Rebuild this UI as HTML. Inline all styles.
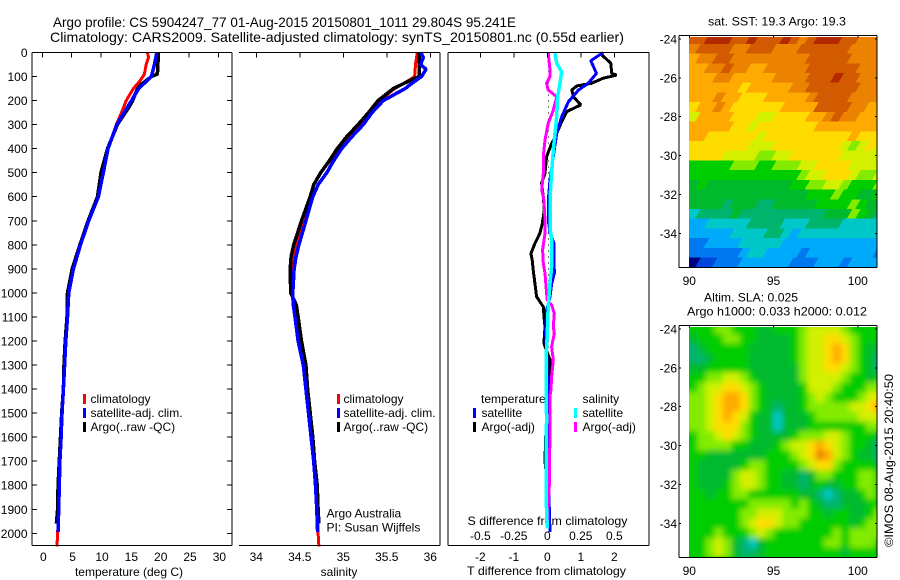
<!DOCTYPE html>
<html lang="en">
<head>
<meta charset="utf-8">
<title>Argo profile chart</title>
<style>
html,body{margin:0;padding:0;background:#fff;}
svg{display:block;}
text{font-family:"Liberation Sans",sans-serif;font-size:12px;fill:#000;}
.ttl{font-size:14px;}
</style>
</head>
<body>
<svg id="chart" xmlns="http://www.w3.org/2000/svg" width="900" height="580" viewBox="0 0 900 580">
<defs>
<clipPath id="clip-sst"><rect x="689" y="37" width="188" height="230"/></clipPath>
<clipPath id="clip-sla"><rect x="689" y="327" width="188" height="230"/></clipPath>
<filter id="soft" x="-5%" y="-5%" width="110%" height="110%"><feGaussianBlur stdDeviation="3"/></filter>
</defs>
<rect x="0" y="0" width="900" height="580" fill="#fff"/>
<text class="ttl" x="53" y="27" textLength="463" lengthAdjust="spacingAndGlyphs">Argo profile: CS 5904247_77 01-Aug-2015 20150801_1011 29.804S 95.241E</text>
<text class="ttl" x="50" y="42" textLength="574" lengthAdjust="spacingAndGlyphs">Climatology: CARS2009. Satellite-adjusted climatology: synTS_20150801.nc (0.55d earlier)</text>

<text x="129" y="576" text-anchor="middle">temperature (deg C)</text>
<text x="339" y="576" text-anchor="middle">salinity</text>
<text x="467" y="575" textLength="159" lengthAdjust="spacingAndGlyphs">T difference from climatology</text>
<text x="467.5" y="525" textLength="160" lengthAdjust="spacingAndGlyphs">S difference from climatology</text>

<g>
<rect x="83" y="394" width="3" height="10" fill="#ff0000"/>
<text x="90.5" y="403">climatology</text>
<rect x="83" y="408" width="3" height="10" fill="#0000ff"/>
<text x="90.5" y="417">satellite-adj. clim.</text>
<rect x="83" y="422" width="3" height="10" fill="#000"/>
<text x="90.5" y="431">Argo(..raw -QC)</text>
</g>
<g>
<rect x="337" y="394" width="3" height="10" fill="#ff0000"/>
<text x="343.5" y="403">climatology</text>
<rect x="337" y="408" width="3" height="10" fill="#0000ff"/>
<text x="343.5" y="417">satellite-adj. clim.</text>
<rect x="337" y="422" width="3" height="10" fill="#000"/>
<text x="343.5" y="431">Argo(..raw -QC)</text>
</g>
<text x="326.5" y="517.5">Argo Australia</text>
<text x="326.5" y="531.5">PI: Susan Wijffels</text>

<g>
<text x="481" y="403">temperature</text>
<rect x="473" y="408" width="3" height="10" fill="#0000ff"/>
<text x="481.5" y="417">satellite</text>
<rect x="473" y="422" width="3" height="10" fill="#000"/>
<text x="481.5" y="431">Argo(-adj)</text>
<text x="582.5" y="403">salinity</text>
<rect x="574" y="408" width="3" height="10" fill="#00ffff"/>
<text x="582.5" y="417">satellite</text>
<rect x="574" y="422" width="3" height="10" fill="#ff00ff"/>
<text x="582.5" y="431">Argo(-adj)</text>
</g>

<text x="708" y="25.5" textLength="138" lengthAdjust="spacingAndGlyphs">sat. SST: 19.3 Argo: 19.3</text>
<text x="704" y="301.5" textLength="94" lengthAdjust="spacingAndGlyphs">Altim. SLA: 0.025</text>
<text x="687" y="315.5" textLength="180" lengthAdjust="spacingAndGlyphs">Argo h1000: 0.033 h2000: 0.012</text>
<text transform="translate(893,547) rotate(-90)" textLength="173" lengthAdjust="spacingAndGlyphs">©IMOS 08-Aug-2015 20:40:50</text>

<g id="labels"></g>
<g id="maps"></g>
<g id="marks"></g>
<g id="axes"></g>
</svg>
<script>
// ---------- axis tick values ----------
const depthTicks = [0,100,200,300,400,500,600,700,800,900,1000,1100,1200,1300,1400,1500,1600,1700,1800,1900,2000];
const temperatureTicks = [0,5,10,15,20,25,30];
const salinityTicks = [34,34.5,35,35.5,36];
const tDiffTicks = [-2,-1,0,1,2];
const sDiffTicks = [-0.5,-0.25,0,0.25,0.5];
const sDiffLabels = ['-0.5','-0.25','0','0.25','0.5'];
const lonTicks = [90,95,100];
const latTicks = [-24,-26,-28,-30,-32,-34];

// ---------- temperature profiles ----------
const climTDepth = [0,20,50,90,120,150,200,250,300,400,500,600,700,800,900,1000,1100,1200,1300,1400,1500,1600,1700,1800,1900,2000,2055];
const climT = [17.9,18.1,17.7,17.4,16.6,15.5,14.3,13.5,12.6,11.2,10.4,9.6,7.9,6.5,5.3,4.5,4.3,4.0,3.8,3.6,3.4,3.2,3.0,2.9,2.8,2.6,2.5];
const satTDepth = [0,50,100,150,200,300,400,500,600,700,800,900,1000,1100,1200,1300,1400,1500,1600,1700,1800,1900,1995];
const satT = [19.5,19.1,18.6,16.4,15.2,12.7,11.2,10.4,9.55,7.9,6.5,5.3,4.5,4.3,4.0,3.8,3.6,3.35,3.2,3.0,2.9,2.8,2.67];
const argoTDepth = [0,90,100,130,150,200,230,300,400,500,600,700,800,900,1000,1100,1200,1300,1400,1500,1600,1700,1800,1900,1960];
const argoT = [19.8,19.6,18.6,17.0,16.2,15.4,14.7,12.8,11.1,10.0,9.4,7.8,6.4,5.1,4.3,4.2,3.9,3.7,3.6,3.3,3.1,2.9,2.7,2.6,2.4];

// ---------- salinity profiles ----------
const climSDepth = [0,50,100,110,150,200,250,300,350,400,450,500,550,600,700,800,900,1000,1050,1100,1200,1300,1400,1500,1600,1700,1800,1900,2000,2055];
const climS = [35.85,35.83,35.82,35.78,35.59,35.42,35.31,35.2,35.06,34.94,34.88,34.81,34.71,34.65,34.56,34.46,34.41,34.41,34.425,34.45,34.49,34.55,34.58,34.61,34.64,34.67,34.69,34.7,34.71,34.72];
const satSDepth = [0,20,50,70,100,120,150,200,250,300,350,400,450,500,550,600,700,800,850,900,1000,1050,1100,1200,1300,1400,1500,1600,1700,1800,1900,1995];
const satS = [35.89,35.92,35.89,35.95,35.90,35.82,35.71,35.46,35.33,35.23,35.10,34.98,34.89,34.81,34.71,34.65,34.57,34.49,34.456,34.435,34.42,34.425,34.445,34.48,34.54,34.57,34.6,34.63,34.66,34.68,34.695,34.705];
const argoSDepth = [0,100,110,150,200,250,300,350,400,450,500,550,600,700,800,850,900,1000,1050,1100,1200,1300,1400,1500,1600,1700,1800,1900,1960];
const argoS = [35.87,35.87,35.805,35.575,35.40,35.29,35.17,35.04,34.93,34.84,34.74,34.66,34.62,34.52,34.43,34.40,34.39,34.395,34.46,34.48,34.52,34.57,34.59,34.62,34.65,34.67,34.7,34.71,34.72];

// ---------- difference profiles ----------
const diffTArgoDepth = [3,45,87,94,107,128,139,156,184,218,246,288,336,385,433,503,544,600,655,711,752,794,836,863,905,960,1016,1058,1113,1141,1210,1279,1349,1404,1500,1600,1700,1800,1900,1960];
const diffTArgo = [1.57,1.9,1.92,2.07,1.67,1.32,0.88,0.73,0.78,1.0,0.58,0.43,0.28,0.11,-0.02,-0.07,-0.17,-0.12,-0.09,-0.15,-0.22,-0.37,-0.49,-0.45,-0.42,-0.37,-0.32,-0.12,-0.09,-0.07,-0.1,0.08,0.08,0.05,0.02,-0.05,-0.07,0,0.02,0.03];
const diffTSatDepth = [0,34,87,128,156,205,267,336,433,530,614,697,752,794,919,960,1016,1071,1169,1238,1404,1600,1730,1855,1994];
const diffTSat = [1.67,1.3,1.47,1.22,0.93,0.63,0.43,0.28,0.18,0.08,0.03,0.03,0.08,0.2,0.21,0.13,0.08,-0.02,-0.05,-0.02,0.01,0.02,0.05,0.05,0.08];
const diffSSatDepth = [3,45,80,128,184,267,406,545,614,725,780,891,960,1058,1169,1279,1404,1522,1660,1840,1980];
const diffSSat = [0.057,0.07,0.107,0.095,0.077,0.07,0.045,0.027,0.02,0.02,0.032,0.032,0.02,0.007,0,-0.01,-0.01,-0.005,-0.01,-0.01,0];
const diffSArgoDepth = [0,73,100,128,156,184,240,295,364,433,503,572,614,697,752,821,877,919,1002,1030,1050,1085,1141,1169,1224,1279,1349,1404,1425,1565,1800,1880,1950];
const diffSArgo = [0.007,0.02,0.02,-0.005,0.007,0.07,0.045,0.007,-0.017,-0.03,-0.03,-0.042,-0.025,-0.017,-0.017,-0.035,-0.03,-0.017,-0.005,0,0.032,0.052,0.045,0.052,0.032,0.045,0.032,0.027,0.02,0.02,0.015,0.007,0.007];

// ---------- SST map, colour-level per 0.5 degree cell (rows from 24S, columns from 90E) ----------
const sstLevels = [
[13,13,14,14,14,13,13,14,13,13,13,14,13,12,13,14,14,14,13,13,12,12,12],
[12,13,13,13,13,12,12,13,13,13,12,12,12,13,13,13,13,13,13,12,12,12,12],
[11,12,12,13,13,12,12,12,12,12,12,12,12,12,13,13,13,13,13,12,12,12,12],
[11,11,12,12,13,12,12,11,11,12,12,12,12,12,13,13,13,13,13,13,12,12,12],
[11,11,11,12,12,11,11,11,11,11,12,12,12,12,13,13,13,14,13,13,12,12,12],
[11,11,11,11,11,11,10,11,11,11,11,11,12,12,13,13,13,13,13,13,12,12,12],
[11,11,11,12,11,11,10,10,10,11,11,11,11,11,12,13,13,13,13,12,12,12,12],
[10,11,11,12,11,10,10,10,10,10,10,11,11,11,11,13,13,13,13,12,12,11,11],
[9,11,11,11,11,10,10,10,9,9,10,10,10,10,11,11,12,13,12,12,11,11,11],
[11,11,11,11,11,10,10,9,10,10,10,10,10,10,10,11,11,11,11,11,11,11,11],
[11,11,10,10,10,10,10,10,9,10,10,10,10,10,10,10,10,10,10,11,10,10,10],
[10,10,10,10,10,10,10,9,9,9,10,10,10,10,10,10,10,10,9,8,9,10,9],
[10,10,10,10,9,9,9,9,8,8,9,9,10,10,10,10,10,10,9,9,9,9,9],
[7,7,7,7,7,8,8,8,7,7,8,8,8,9,9,10,10,10,10,9,9,9,9],
[7,7,7,7,7,7,7,7,7,7,7,7,7,8,9,9,10,10,10,9,8,8,9],
[6,7,6,6,6,6,6,6,6,6,6,6,7,7,8,8,9,9,8,7,7,7,8],
[6,6,6,6,6,6,6,6,6,6,6,6,6,6,7,7,7,8,7,7,6,6,7],
[6,6,6,6,5,6,6,6,5,5,6,6,6,6,6,7,7,7,7,8,7,6,6],
[4,5,5,5,5,6,5,5,5,5,5,5,5,5,5,5,6,6,6,8,7,6,5],
[3,3,4,4,4,4,4,5,5,5,5,4,4,4,5,5,5,5,4,4,4,4,4],
[3,3,3,3,3,4,4,4,4,5,5,4,3,4,4,4,4,4,4,4,4,4,4],
[2,2,3,3,3,3,4,4,4,4,4,3,3,3,3,3,3,3,3,3,3,3,3],
[2,2,2,2,2,2,3,4,4,3,3,3,3,2,3,3,3,3,3,3,3,3,2],
[0,1,1,2,2,2,3,3,3,3,3,3,2,2,2,3,3,3,2,3,3,3,3]
];

// ---------- sea-level anomaly map, colour-level per 0.5 degree cell ----------
const slaLevels = [
[7,7,7,8,8,7,7,7,6,6,7,7,7,8,9,9,9,9,8,7,7,7,7],
[6,7,7,7,8,8,7,7,6,6,6,6,7,8,9,9,10,10,9,8,7,7,7],
[5,6,7,7,7,7,7,6,6,6,6,6,7,8,9,9,10,11,10,8,7,6,6],
[5,5,6,7,7,7,7,6,6,6,6,6,7,8,9,9,10,11,10,8,7,6,5],
[6,6,7,7,7,7,7,6,6,6,6,6,6,8,9,9,10,10,9,8,7,6,5],
[7,7,8,8,9,9,8,7,6,6,6,6,6,8,9,9,9,9,8,7,7,6,7],
[7,8,9,9,10,10,9,8,7,6,6,6,6,7,9,9,9,8,7,7,7,8,8],
[8,8,9,10,11,11,10,8,7,6,6,6,6,7,8,9,8,7,7,7,8,9,10],
[8,8,9,10,11,11,10,8,7,6,5,6,6,7,8,8,8,8,8,9,9,10,11],
[8,8,9,10,11,10,9,7,6,6,4,6,6,6,7,8,8,8,8,8,9,9,9],
[8,8,9,10,10,10,8,7,6,6,4,6,6,6,7,7,7,7,7,7,7,8,8],
[7,8,8,9,10,9,8,7,6,6,6,6,7,8,8,8,9,9,8,7,7,7,6],
[7,8,8,8,8,7,7,6,6,6,7,8,9,9,10,11,10,9,8,7,7,6,5],
[7,7,6,6,6,6,6,6,6,7,7,7,8,9,10,12,11,9,8,7,6,6,5],
[7,6,6,6,6,6,7,8,8,7,7,7,7,8,9,10,10,8,7,7,7,7,6],
[7,6,6,6,6,8,9,9,8,7,7,6,6,5,6,8,8,7,7,7,8,8,7],
[7,6,6,6,7,8,9,9,8,7,7,6,6,5,6,7,6,6,7,7,8,8,7],
[7,7,6,7,7,8,8,7,7,7,7,7,7,6,6,5,4,5,6,6,7,8,7],
[7,7,7,7,7,7,7,8,8,8,8,8,7,8,7,6,5,5,6,6,6,7,7],
[7,7,7,7,7,7,8,8,9,9,9,8,8,8,7,7,6,7,7,6,6,7,8],
[7,7,7,7,7,7,8,9,10,10,9,8,8,7,7,7,7,7,7,6,7,8,8],
[7,7,7,8,7,7,7,8,9,8,7,7,7,7,7,7,7,8,7,8,8,8,8],
[7,7,8,9,8,6,5,4,6,7,7,7,7,7,7,7,8,8,7,8,8,8,7],
[7,7,8,9,8,6,5,5,6,7,7,7,7,7,7,7,7,7,6,7,7,7,7]
];

// ---------- helpers and scales ----------
const NS = 'http://www.w3.org/2000/svg';
const colourStops = ['#000082','#0046dc','#0078f0','#00aafa','#00c8c8','#00b46e','#00b92d','#00cd00','#82eb00','#d2f000','#ffdc00','#ffaa00','#eb8200','#d25a00','#b42800'];
const yDepth = d => 52.5 + 0.2404 * d;
const xTemp = t => 42.3 + 5.87 * t;
const xSal = s => 256.3 + 87 * (s - 34);
const xTDiff = t => 547.3 + 33.5 * t;
const xSDiff = s => 547.3 + 134 * s;
const xLon = lon => 689.3 + 16.85 * (lon - 90);
const ySst = lat => 39 + 19.43 * (-24 - lat);
const ySla = lat => 329 + 19.43 * (-24 - lat);
const PANEL_BOTTOM = 545.5;
const PANEL_TOP = 52.5;

function svgEl(tag, parent) {
  const el = document.createElementNS(NS, tag);
  parent.appendChild(el);
  return el;
}
function setAttrs(el, attrs) {
  for (const k in attrs) el.setAttribute(k, attrs[k]);
  return el;
}
function line(parent, x1, y1, x2, y2, name) {
  const el = svgEl('line', parent);
  setAttrs(el, {x1, y1, x2, y2, stroke: '#000', 'stroke-width': 1, 'shape-rendering': 'crispEdges'});
  
  
  return el;
}
function label(parent, x, y, str, anchor, name) {
  const el = svgEl('text', parent);
  setAttrs(el, {x, y, 'text-anchor': anchor});
  el.textContent = str;
  
  
  return el;
}
function profile(parent, depths, values, xFn, colour, width, name) {
  const el = svgEl('polyline', parent);
  const pts = depths.map((d, i) => xFn(values[i]).toFixed(1) + ',' + yDepth(d).toFixed(1)).join(' ');
  setAttrs(el, {points: pts, fill: 'none', stroke: colour, 'stroke-width': width, 'shape-rendering': 'crispEdges', 'stroke-linejoin': 'bevel'});
  
  
  return el;
}
function levelColour(v) {
  const c = Math.max(0, Math.min(colourStops.length - 1, v));
  const i = Math.floor(c);
  const j = Math.min(colourStops.length - 1, i + 1);
  const f = c - i;
  const parse = h => [1, 3, 5].map(k => parseInt(h.substr(k, 2), 16));
  const a = parse(colourStops[i]);
  const b = parse(colourStops[j]);
  return 'rgb(' + a.map((n, k) => Math.round(n + (b[k] - n) * f)).join(',') + ')';
}
// Cells are drawn as slanted parallelograms when slant > 0 (the original map grid is oblique on screen).
function heatmap(parent, rows, yFn, slant, name) {
  rows.forEach((row, r) => {
    row.forEach((v, c) => {
      const lon = 90 + 0.5 * c;
      const lat = -24 - 0.5 * r;
      const x0 = xLon(lon) - (c === 0 ? 12 : 0);
      const x1 = xLon(lon + 0.5) + 0.6 + (c === row.length - 1 ? 12 : 0);
      const y0 = yFn(lat + 0.25);
      const y1 = yFn(lat - 0.25) + 0.6;
      const el = svgEl('polygon', parent);
      const pts = [[x0 + slant, y0], [x1 + slant, y0], [x1 - slant, y1], [x0 - slant, y1]];
      setAttrs(el, {points: pts.map(p => p[0].toFixed(2) + ',' + p[1].toFixed(2)).join(' '), fill: levelColour(v), 'shape-rendering': 'crispEdges'});
      
      
    });
  });
}

const labels = document.getElementById('labels');
const maps = document.getElementById('maps');
const marks = document.getElementById('marks');
const axes = document.getElementById('axes');

// ---------- maps ----------
const sstClip = svgEl('g', maps);
sstClip.setAttribute('clip-path', 'url(#clip-sst)');


heatmap(sstClip, sstLevels, ySst, 3, 'sst-cell');

const slaClip = svgEl('g', maps);
slaClip.setAttribute('clip-path', 'url(#clip-sla)');


const slaBase = svgEl('rect', slaClip);
setAttrs(slaBase, {x: 689, y: 327, width: 188, height: 230, fill: levelColour(7)});


const slaSoft = svgEl('g', slaClip);
slaSoft.setAttribute('filter', 'url(#soft)');


heatmap(slaSoft, slaLevels, ySla, 0, 'sla-cell');

// ---------- profile lines ----------
profile(marks, climTDepth, climT, xTemp, '#ff0000', 3, 'temperature-climatology-line');
profile(marks, argoTDepth, argoT, xTemp, '#000000', 3.5, 'temperature-argo-line');
profile(marks, satTDepth, satT, xTemp, '#0000ff', 3.5, 'temperature-satellite-line');
profile(marks, climSDepth, climS, xSal, '#ff0000', 3, 'salinity-climatology-line');
profile(marks, argoSDepth, argoS, xSal, '#000000', 3.5, 'salinity-argo-line');
profile(marks, satSDepth, satS, xSal, '#0000ff', 3.5, 'salinity-satellite-line');

const zeroDots = svgEl('line', marks);
setAttrs(zeroDots, {x1: 548.5, y1: yDepth(0), x2: 548.5, y2: yDepth(1450), stroke: '#000', 'stroke-width': 1, 'stroke-dasharray': '1 5', 'shape-rendering': 'crispEdges'});



profile(marks, diffTArgoDepth, diffTArgo, xTDiff, '#000000', 3, 't-diff-argo-line');
profile(marks, diffTSatDepth, diffTSat, xTDiff, '#0000ff', 3, 't-diff-satellite-line');
profile(marks, diffSArgoDepth, diffSArgo, xSDiff, '#ff00ff', 3, 's-diff-argo-line');
profile(marks, diffSSatDepth, diffSSat, xSDiff, '#00ffff', 3.5, 's-diff-satellite-line');

// ---------- profile panel frames ----------
line(axes, 32, PANEL_TOP, 232, PANEL_TOP, 'temperature-panel-top');
line(axes, 32, PANEL_BOTTOM, 232, PANEL_BOTTOM, 'temperature-panel-bottom');
line(axes, 32, PANEL_TOP, 32, PANEL_BOTTOM, 'temperature-panel-left');
line(axes, 232, PANEL_TOP, 232, PANEL_BOTTOM, 'temperature-panel-right');
line(axes, 239, PANEL_TOP, 440, PANEL_TOP, 'salinity-panel-top');
line(axes, 239, PANEL_BOTTOM, 440, PANEL_BOTTOM, 'salinity-panel-bottom');
line(axes, 440, PANEL_TOP, 440, PANEL_BOTTOM, 'salinity-panel-right');
line(axes, 448, PANEL_TOP, 649, PANEL_TOP, 'difference-panel-top');
line(axes, 448, PANEL_BOTTOM, 649, PANEL_BOTTOM, 'difference-panel-bottom');
line(axes, 448, PANEL_TOP, 448, PANEL_BOTTOM, 'difference-panel-left');
line(axes, 649, PANEL_TOP, 649, PANEL_BOTTOM, 'difference-panel-right');

depthTicks.forEach(d => {
  const y = yDepth(d);
  line(axes, 32, y, 37, y, 'depth-tick-left');
  line(axes, 227, y, 232, y, 'depth-tick-right');
  label(labels, 27.5, y + 4.5, String(d), 'end', 'depth-tick-label');
});
temperatureTicks.forEach(t => {
  const x = xTemp(t);
  line(axes, x, PANEL_TOP, x, PANEL_TOP + 5, 'temperature-tick');
  label(labels, x + 1, 561, String(t), 'middle', 'temperature-tick-label');
});
salinityTicks.forEach(s => {
  const x = xSal(s);
  line(axes, x, PANEL_TOP, x, PANEL_TOP + 5, 'salinity-tick');
  label(labels, x, 561, String(s), 'middle', 'salinity-tick-label');
});
tDiffTicks.forEach(t => {
  const x = xTDiff(t);
  line(axes, x, PANEL_TOP, x, PANEL_TOP + 5, 'difference-tick');
  label(labels, x, 561, String(t), 'middle', 't-difference-tick-label');
});
sDiffTicks.forEach((s, i) => {
  label(labels, xSDiff(s), 540, sDiffLabels[i], 'middle', 's-difference-tick-label');
});

// ---------- map frames ----------
function mapFrame(top, bottom, yFn, labelY, name) {
  line(axes, 679, top, 877, top, name + '-top');
  line(axes, 679, bottom, 877, bottom, name + '-bottom');
  line(axes, 679, top, 679, bottom, name + '-left');
  line(axes, 877, top, 877, bottom, name + '-right');
  latTicks.forEach(lat => {
    const y = yFn(lat);
    line(axes, 679, y, 681, y, name + '-lat-tick');
    line(axes, 875, y, 877, y, name + '-lat-tick-right');
    label(labels, 677, y + 4.5, String(lat), 'end', name + '-lat-label');
  });
  lonTicks.forEach(lon => {
    const x = xLon(lon);
    line(axes, x, top, x, top + 2, name + '-lon-tick');
    label(labels, x, labelY, String(lon), 'middle', name + '-lon-label');
  });
}
mapFrame(35.5, 267.5, ySst, 285, 'sst-map');
mapFrame(325.5, 557.5, ySla, 575, 'sla-map');
</script>
</body>
</html>
